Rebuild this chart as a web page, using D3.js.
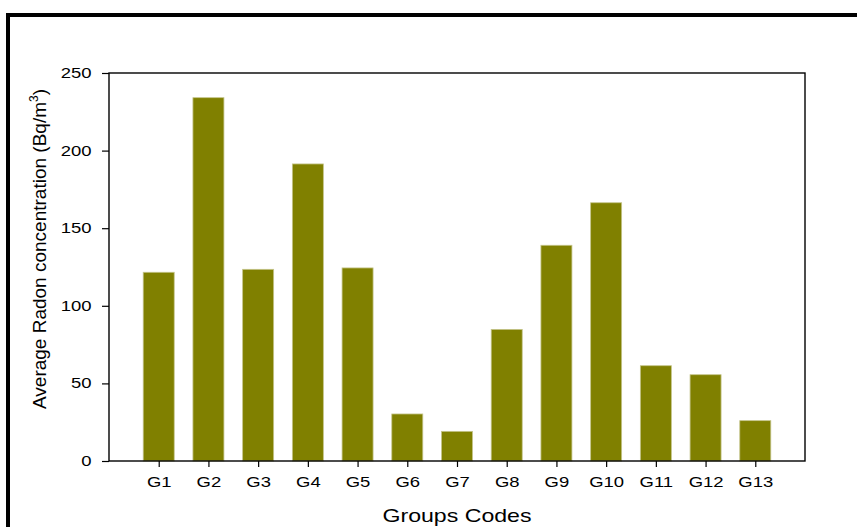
<!DOCTYPE html>
<html>
<head>
<meta charset="utf-8">
<script src="https://cdn.jsdelivr.net/npm/d3@7"></script>
<style>
  body { margin: 0; background: #fff; }
  svg { display: block; font-family: "Liberation Sans", Arial, sans-serif; }
</style>
</head>
<body>
<figure id="chart" style="margin:0"></figure>
<script>
var groups = ["G1", "G2", "G3", "G4", "G5", "G6", "G7", "G8", "G9", "G10", "G11", "G12", "G13"];
var radon = [121.6, 234.1, 123.5, 191.4, 124.4, 30.3, 19.1, 84.8, 139, 166.4, 61.4, 55.6, 26];
var yTicks = [0, 50, 100, 150, 200, 250];

var dimensions = {
    width: 857,
    height: 527,
    margin: { top: 73, right: 52, bottom: 66, left: 109 }
};
dimensions.boundedWidth = dimensions.width - dimensions.margin.left - dimensions.margin.right;
dimensions.boundedHeight = dimensions.height - dimensions.margin.top - dimensions.margin.bottom;

// the original text is drawn a bit wider than normal
var stretch = 1.32;

var root = d3.select("figure#chart")
    .append("svg")
    .attr("width", dimensions.width)
    .attr("height", dimensions.height);

// outer black frame (top and left edges)
root.append("rect").attr("x", 6).attr("y", 13).attr("width", 851).attr("height", 4).attr("fill", "#000");
root.append("rect").attr("x", 6).attr("y", 13).attr("width", 4).attr("height", 514).attr("fill", "#000");

var svg = root.append("g")
    .attr("transform", `translate(${dimensions.margin.left},${dimensions.margin.top})`);

var xScale = d3.scalePoint()
    .domain(groups)
    .range([0, dimensions.boundedWidth])
    .padding(1);

var yScale = d3.scaleLinear()
    .domain([0, 250])
    .range([dimensions.boundedHeight, 0]);

var barWidth = 31;

svg.selectAll("rect.bar")
    .data(groups)
    .enter()
    .append("rect")
    .attr("class", "bar")
    .attr("x", d => xScale(d) - barWidth / 2)
    .attr("width", barWidth)
    .attr("y", (d, i) => yScale(radon[i]))
    .attr("height", (d, i) => yScale(0) - yScale(radon[i]))
    .attr("fill", "#808000")
    .attr("stroke", "#c4c48a")
    .attr("stroke-width", 0.8);

// plot box
svg.append("rect")
    .attr("width", dimensions.boundedWidth)
    .attr("height", dimensions.boundedHeight)
    .attr("fill", "none")
    .attr("stroke", "#000")
    .attr("stroke-width", 1.4);

var xAxis = svg.append("g")
    .attr("transform", `translate(0,${dimensions.boundedHeight})`)
    .call(d3.axisBottom(xScale).tickSize(6).tickSizeOuter(0));
xAxis.select(".domain").remove();
xAxis.selectAll("line").attr("stroke-width", 1.2);
xAxis.selectAll("text")
    .attr("y", 26.5)
    .attr("dy", 0)
    .attr("fill", "#000")
    .attr("transform", `scale(${stretch},1)`)
    .style("font-size", "14px")
    .style("font-family", "'Liberation Sans', Arial, sans-serif");

var yAxis = svg.append("g")
    .call(d3.axisLeft(yScale).tickValues(yTicks).tickSize(7).tickSizeOuter(0));
yAxis.select(".domain").remove();
yAxis.selectAll("line").attr("stroke-width", 1.2);
yAxis.selectAll("text")
    .attr("x", -17.5 / stretch)
    .attr("fill", "#000")
    .attr("transform", `scale(${stretch},1)`)
    .style("font-size", "14px")
    .style("font-family", "'Liberation Sans', Arial, sans-serif");

root.append("text")
    .attr("transform", `translate(${dimensions.margin.left + dimensions.boundedWidth / 2},521.5) scale(1.25,1)`)
    .attr("text-anchor", "middle")
    .style("font-size", "18.5px")
    .text("Groups Codes");

var yLabel = root.append("text")
    .attr("transform", "translate(46,249) rotate(-90)")
    .attr("text-anchor", "middle")
    .style("font-size", "19px");
yLabel.append("tspan").text("Average Radon concentration (Bq/m");
yLabel.append("tspan").attr("dy", -8).style("font-size", "12px").text("3");
yLabel.append("tspan").attr("dy", 8).text(")");
</script>
</body>
</html>
